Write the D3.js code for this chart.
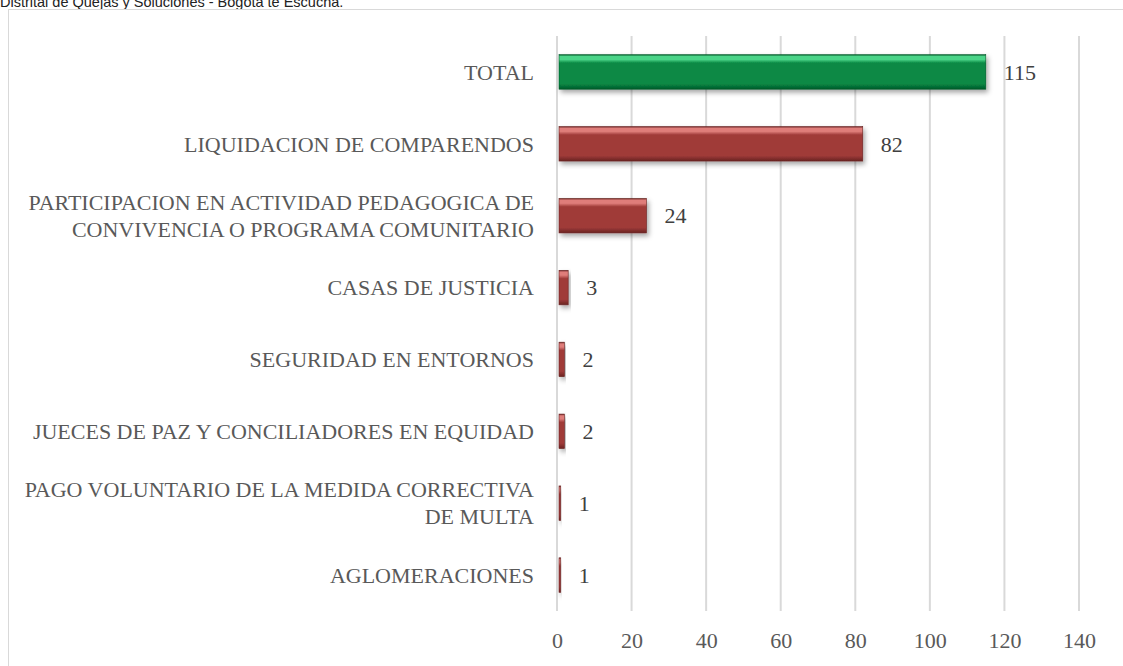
<!DOCTYPE html>
<html>
<head>
<meta charset="utf-8">
<script src="https://cdn.jsdelivr.net/npm/d3@7"></script>
<style>
  body { margin: 0; background: #fff; }
  #chart { width: 1123px; height: 666px; position: relative; overflow: hidden; }
</style>
</head>
<body>
<div id="chart"></div>
<script>
// categories, top to bottom
const categories = [
    ["TOTAL"],
    ["LIQUIDACION DE COMPARENDOS"],
    ["PARTICIPACION EN ACTIVIDAD PEDAGOGICA DE", "CONVIVENCIA O PROGRAMA COMUNITARIO"],
    ["CASAS DE JUSTICIA"],
    ["SEGURIDAD EN ENTORNOS"],
    ["JUECES DE PAZ Y CONCILIADORES EN EQUIDAD"],
    ["PAGO VOLUNTARIO DE LA MEDIDA CORRECTIVA", "DE MULTA"],
    ["AGLOMERACIONES"]
];
const values = [115, 82, 24, 3, 2, 2, 1, 1];
const xTicks = [0, 20, 40, 60, 80, 100, 120, 140];
const titleText = "Distrital de Quejas y Soluciones - Bogota te Escucha.";

const W = 1123, H = 666;
const margin = {top: 36, right: 44, bottom: 55, left: 557};
const width = W - margin.left - margin.right;
const height = H - margin.top - margin.bottom;

const svg = d3.select("#chart").append("svg")
    .attr("width", W)
    .attr("height", H);

// title, cut off at the top as in the source image
svg.append("text")
    .attr("x", 0)
    .attr("y", 7)
    .attr("font-family", "Liberation Sans, Arial, sans-serif")
    .attr("font-size", "14.5px")
    .attr("fill", "#222")
    .text(titleText);

// chart frame
svg.append("rect")
    .attr("x", 8.5)
    .attr("y", 9.5)
    .attr("width", W + 20)
    .attr("height", H + 20)
    .attr("fill", "none")
    .attr("stroke", "#d9d9d9")
    .attr("stroke-width", 1);

const defs = svg.append("defs");

function barGradient(id, light, mid, dark) {
    let g = defs.append("linearGradient")
        .attr("id", id)
        .attr("x1", 0).attr("y1", 0).attr("x2", 0).attr("y2", 1);
    g.append("stop").attr("offset", "0%").attr("stop-color", dark);
    g.append("stop").attr("offset", "5%").attr("stop-color", light);
    g.append("stop").attr("offset", "14%").attr("stop-color", light);
    g.append("stop").attr("offset", "24%").attr("stop-color", mid);
    g.append("stop").attr("offset", "84%").attr("stop-color", mid);
    g.append("stop").attr("offset", "100%").attr("stop-color", dark);
}
barGradient("gGreen", "#4cd488", "#088944", "#045a2b");
barGradient("gRed", "#df7d7a", "#a03b39", "#6a2322");

let shadow = defs.append("filter")
    .attr("id", "shadow")
    .attr("x", "-10%").attr("y", "-20%")
    .attr("width", "130%").attr("height", "160%");
shadow.append("feDropShadow")
    .attr("dx", 2).attr("dy", 3)
    .attr("stdDeviation", 2.5)
    .attr("flood-color", "#000")
    .attr("flood-opacity", 0.35);

const g = svg.append("g")
    .attr("transform", "translate(" + margin.left + "," + margin.top + ")");

const x = d3.scaleLinear()
    .domain([0, 140])
    .range([0, width]);

const y = d3.scaleBand()
    .domain(d3.range(categories.length))
    .range([0, height])
    .paddingInner(0.52)
    .paddingOuter(0.26);

// gridlines
g.selectAll(".grid")
    .data(xTicks)
    .enter()
    .append("line")
    .attr("x1", d => x(d))
    .attr("x2", d => x(d))
    .attr("y1", 0)
    .attr("y2", height)
    .attr("stroke", "#d9d9d9")
    .attr("stroke-width", 2);

// x axis labels
let xAxis = g.append("g")
    .attr("transform", "translate(0," + height + ")")
    .call(d3.axisBottom(x).tickValues(xTicks).tickSize(0).tickPadding(21));
xAxis.select(".domain").remove();
xAxis.selectAll("text")
    .attr("font-family", "Liberation Serif, Cambria, serif")
    .attr("font-size", "22px")
    .attr("fill", "#595959");

// bars
g.selectAll(".bar")
    .data(values)
    .enter()
    .append("rect")
    .attr("x", x(0) + 2)
    .attr("y", (d, i) => y(i))
    .attr("width", d => x(d) - x(0) - 2)
    .attr("height", y.bandwidth())
    .attr("fill", (d, i) => i === 0 ? "url(#gGreen)" : "url(#gRed)")
    .attr("stroke", (d, i) => i === 0 ? "#045a2b" : "#6a2322")
    .attr("stroke-width", 0.6)
    .attr("filter", "url(#shadow)");

// value labels
g.selectAll(".val")
    .data(values)
    .enter()
    .append("text")
    .attr("x", d => x(d) + 18)
    .attr("y", (d, i) => y(i) + y.bandwidth() / 2)
    .attr("dy", "0.35em")
    .attr("font-family", "Liberation Serif, Cambria, serif")
    .attr("font-size", "22px")
    .attr("fill", "#404040")
    .text(d => d);

// category labels
let cat = g.selectAll(".cat")
    .data(categories)
    .enter()
    .append("text")
    .attr("text-anchor", "end")
    .attr("font-family", "Liberation Serif, Cambria, serif")
    .attr("font-size", "22px")
    .attr("fill", "#595959")
    .attr("transform", (d, i) => "translate(-23," + (y(i) + y.bandwidth() / 2) + ")");

cat.selectAll("tspan")
    .data(d => d.map((t, k) => ({t: t, k: k, n: d.length})))
    .enter()
    .append("tspan")
    .attr("x", 0)
    .attr("y", d => (d.k - (d.n - 1) / 2) * 27)
    .attr("dy", "0.35em")
    .text(d => d.t);
</script>
</body>
</html>
